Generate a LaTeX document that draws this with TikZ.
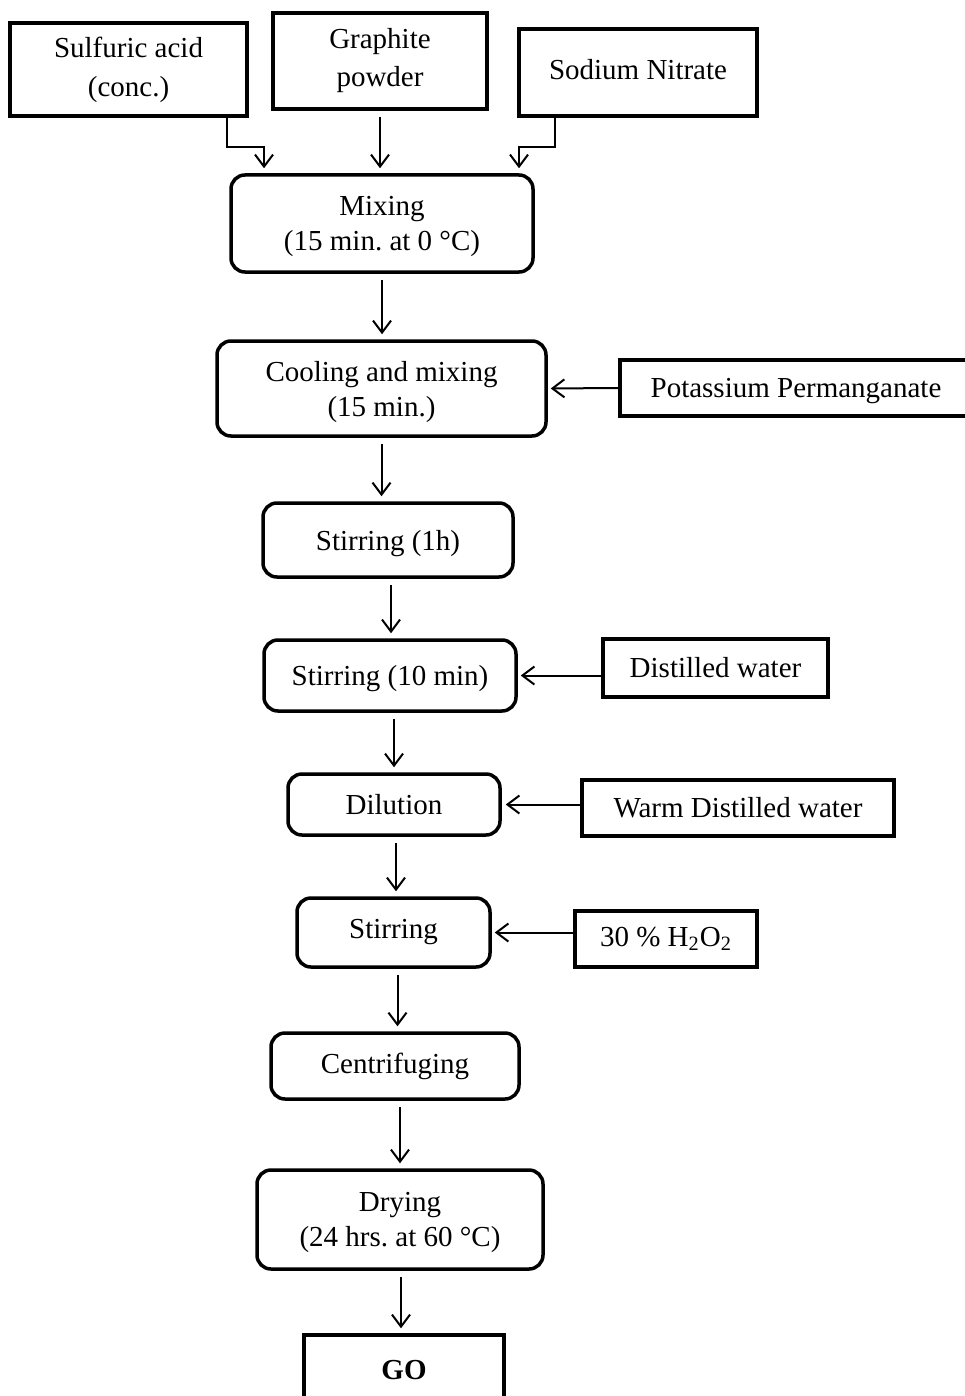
\documentclass[tikz,border=0pt]{standalone}
\usepackage{fontspec}
\setmainfont{Liberation Serif}
\frenchspacing
\usetikzlibrary{positioning}
\usetikzlibrary{arrows.meta}
\tikzset{>={Straight Barb[length=6pt,width=9pt]}}
\tikzset{proc/.style={draw, rounded corners=7pt, line width=1.75pt, align=center, inner sep=0pt, font=\fontsize{14.5}{17.5}\selectfont}}
\tikzset{feed/.style={draw, line width=1.75pt, align=center, inner sep=0pt, font=\fontsize{14.5}{17.5}\selectfont}}
\tikzset{low/.style={text depth=-4pt}}
\tikzset{flow/.style={->, line width=1pt, shorten <=3pt, shorten >=2.5pt}}

\begin{document}
\begin{tikzpicture}[x=0.5pt, y=-0.5pt]
        \useasboundingbox (0,0) rectangle (964,1396);

        \node[feed, minimum width=118.5pt, minimum height=46.5pt, font=\fontsize{14.5}{19.5}\selectfont] (sulf) at (128.5, 69.5) {Sulfuric acid\\(conc.)};
        \node[feed, minimum width=107pt, minimum height=48pt, font=\fontsize{14.5}{19}\selectfont] (graph) at (380, 61) {Graphite\\powder};
        \node[feed, minimum width=119pt, minimum height=43.5pt, text depth=3pt] (sodium) at (638, 72.5) {Sodium Nitrate};

        \node[proc, low, minimum width=151pt, minimum height=48.5pt] (mix) at (382, 223.5) {Mixing\\(15 min. at 0 °C)};
        \node[proc, low, minimum width=164.5pt, minimum height=47.5pt] (cool) at (381.5, 388.5) {Cooling and mixing\\(15 min.)};
        \node[feed, low, minimum width=176pt, minimum height=28pt] (kmno) at (796, 388) {Potassium Permanganate};

        \node[proc, low, minimum width=125pt, minimum height=37pt] (stir1) at (388, 540) {Stirring (1h)};
        \node[proc, low, minimum width=126pt, minimum height=35.5pt] (stir2) at (390, 675.5) {Stirring (10 min)};
        \node[feed, minimum width=112.5pt, minimum height=29pt] (dist) at (715.5, 668) {Distilled water};

        \node[proc, minimum width=106pt, minimum height=30.5pt] (dil) at (394, 804.5) {Dilution};
        \node[feed, minimum width=156pt, minimum height=28pt] (warm) at (738, 808) {Warm Distilled water};

        \node[proc, minimum width=96.5pt, minimum height=34.5pt] (stir3) at (393.5, 932.5) {Stirring};
        \node[feed, minimum width=91pt, minimum height=28pt] (hpo) at (666, 939) {30 \% H\textsubscript{2}O\textsubscript{2}};

        \node[proc, minimum width=124pt, minimum height=33pt] (cent) at (395, 1066) {Centrifuging};
        \node[proc, low, minimum width=143pt, minimum height=49.5pt] (dry) at (400, 1219.5) {Drying\\(24 hrs. at 60 °C)};
        \node[feed, minimum width=100pt, minimum height=35pt] (go) at (404, 1370) {\textbf{GO}};

        \draw[flow, shorten <=0pt] ([xshift=-11pt]sulf.south east) -- ++(0,29) -| ([xshift=-59pt]mix.north);
        \draw[flow] (graph.south) -- (graph.south |- mix.north);
        \draw[flow, shorten <=0pt] ([xshift=19pt]sodium.south west) -- ++(0,29) -| ([xshift=68.5pt]mix.north);

        \draw[flow] (mix.south) -- (mix.south |- cool.north);
        \draw[flow] (cool.south) -- (cool.south |- stir1.north);
        \draw[flow] ([xshift=1.5pt]stir1.south) -- ([xshift=1.5pt]stir1.south |- stir2.north);
        \draw[flow] ([xshift=2pt]stir2.south) -- ([xshift=2pt]stir2.south |- dil.north);
        \draw[flow] ([xshift=1pt]dil.south) -- ([xshift=1pt]dil.south |- stir3.north);
        \draw[flow] ([xshift=2pt]stir3.south) -- ([xshift=2pt]stir3.south |- cent.north);
        \draw[flow] ([xshift=2.5pt]cent.south) -- ([xshift=2.5pt]cent.south |- dry.north);
        \draw[flow] ([xshift=0.5pt]dry.south) -- ([xshift=0.5pt]dry.south |- go.north);

        \draw[flow, shorten <=0pt, shorten >=1.5pt] (kmno.west) -- (cool.east);
        \draw[flow, shorten <=0pt, shorten >=1.5pt] (dist.west |- stir2) -- (stir2.east);
        \draw[flow, shorten <=0pt, shorten >=2pt] (warm.west |- dil) -- (dil.east);
        \draw[flow, shorten <=0pt, shorten >=1.5pt] (hpo.west |- stir3) -- (stir3.east);
\end{tikzpicture}
\end{document}
